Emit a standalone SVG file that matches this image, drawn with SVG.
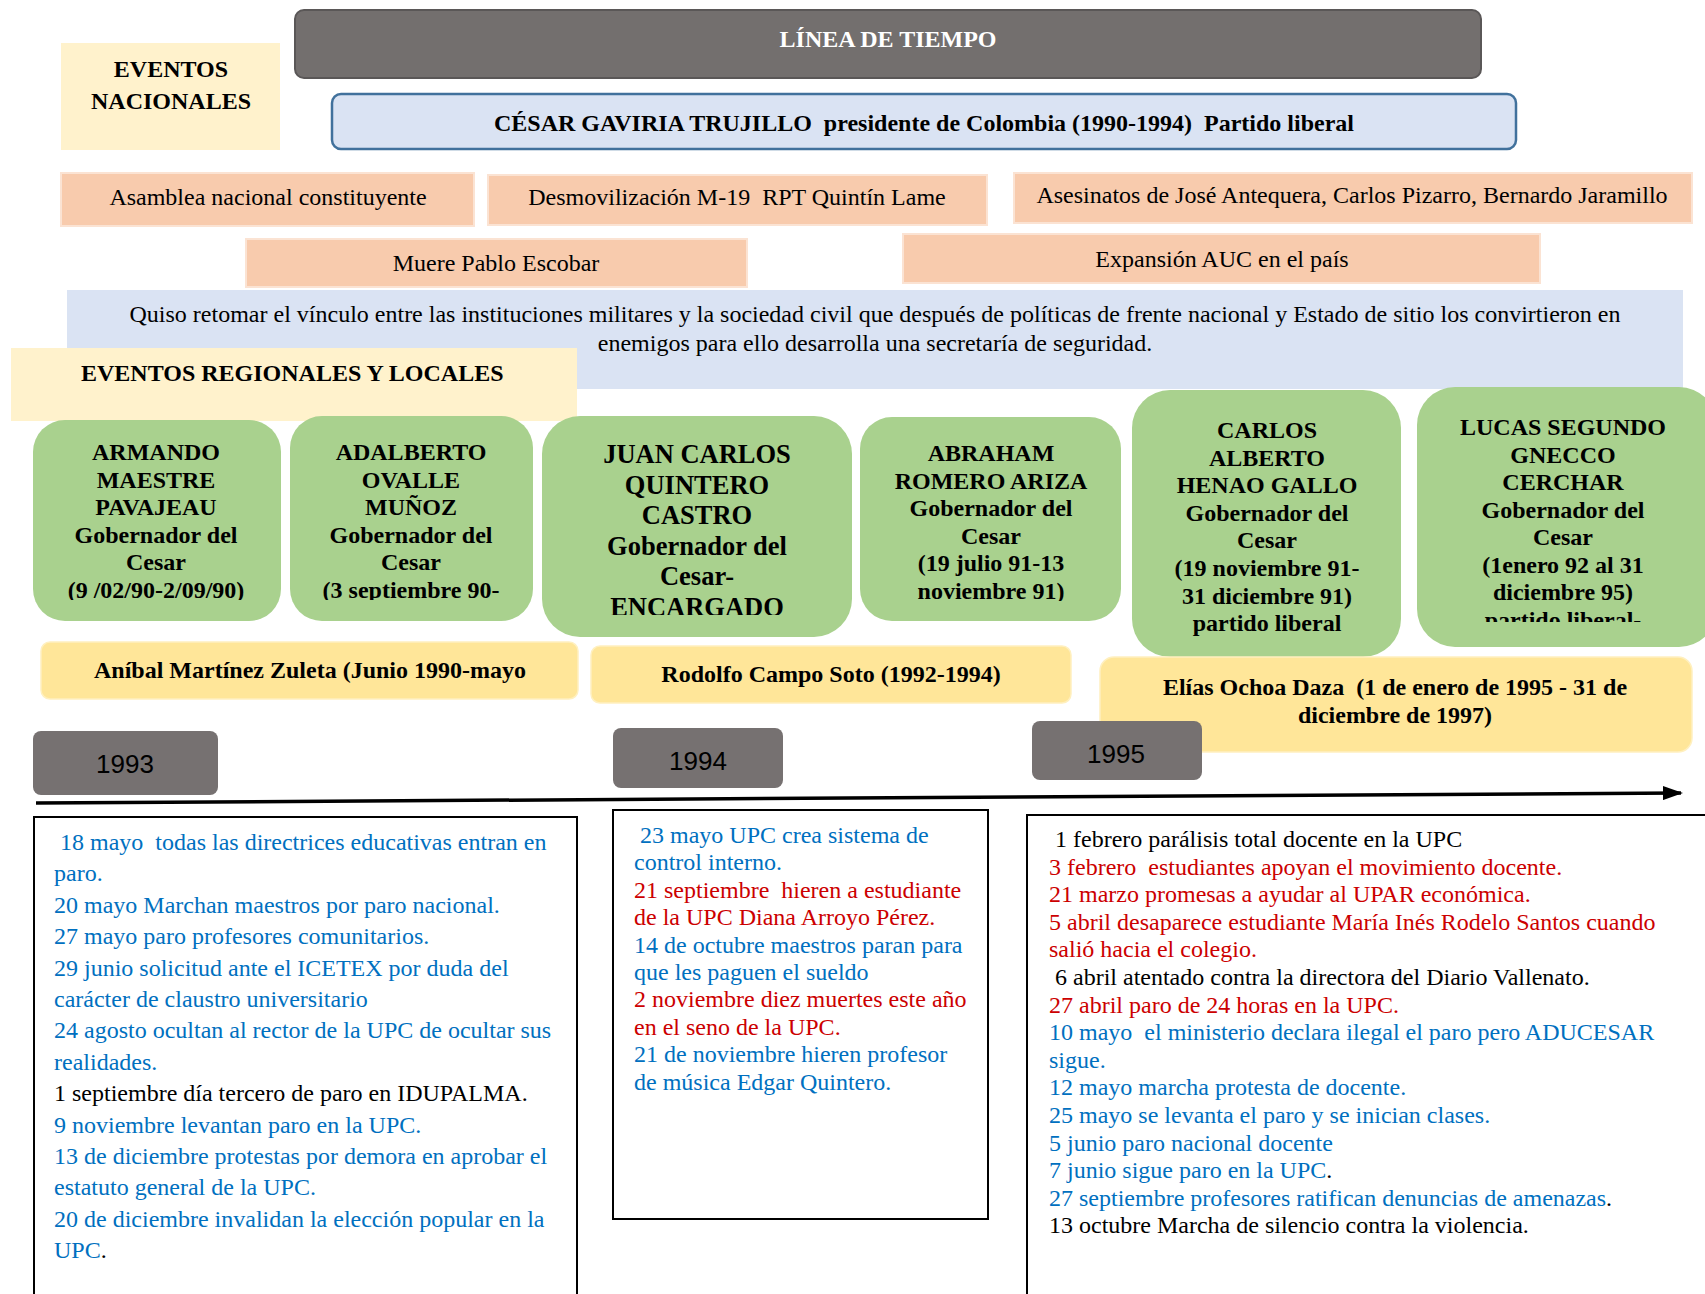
<svg xmlns="http://www.w3.org/2000/svg" width="1705" height="1294" viewBox="0 0 1705 1294">
<style>
text{font-family:"Liberation Serif","Times New Roman",serif;font-size:24px;fill:#000;white-space:pre}
.b{font-weight:bold}
.c{text-anchor:middle}
.w{fill:#fff}
.blue{fill:#0070c0}
.red{fill:#cc0000}
.blk{fill:#000}
.yr{font-family:"Liberation Sans",Arial,sans-serif;font-size:26px;text-anchor:middle}
.salmon{fill:#f8cbad;stroke:#fbe3d3;stroke-width:2}
.green{fill:#a9d18e}
.gov{fill:#ffe699;stroke:#fff0c0;stroke-width:1.5}
.year{fill:#767171}
.cream{fill:#fff2cc}
.ev{fill:#fff;stroke:#000;stroke-width:2}
</style>
<defs>
<marker id="arr" markerUnits="userSpaceOnUse" markerWidth="20" markerHeight="14" refX="18" refY="7" orient="auto">
<path d="M0,0 L20,7 L0,14 Z" fill="#000"/>
</marker>
<clipPath id="clipA"><rect x="30" y="410" width="260" height="190"/></clipPath>
<clipPath id="clipB"><rect x="285" y="410" width="255" height="190"/></clipPath>
<clipPath id="clipC"><rect x="540" y="410" width="315" height="205"/></clipPath>
<clipPath id="clipD"><rect x="855" y="410" width="270" height="191"/></clipPath>
<clipPath id="clipF"><rect x="1415" y="380" width="300" height="242"/></clipPath>
</defs>
<rect width="1705" height="1294" fill="#fff"/>

<g id="titulo">
<rect x="295" y="10" width="1186" height="68" rx="9" fill="#736f6e" stroke="#5a5757" stroke-width="2"/>
<text class="b c w" x="888" y="47">LÍNEA DE TIEMPO</text>
</g>

<g id="eventos-nacionales">
<rect class="cream" x="61" y="43" width="219" height="107"/>
<text class="b c" x="171" y="77">EVENTOS</text>
<text class="b c" x="171" y="109">NACIONALES</text>
</g>

<g id="presidente">
<rect x="332" y="94" width="1184" height="55" rx="9" fill="#dae3f3" stroke="#41719c" stroke-width="2.5"/>
<text class="b c" x="924" y="131">CÉSAR GAVIRIA TRUJILLO  presidente de Colombia (1990-1994)  Partido liberal</text>
</g>

<g id="asamblea">
<rect class="salmon" x="61" y="173" width="413" height="53"/>
<text class="c" x="268" y="205">Asamblea nacional constituyente</text>
</g>
<g id="desmovilizacion">
<rect class="salmon" x="488" y="175" width="499" height="50"/>
<text class="c" x="737" y="205">Desmovilización M-19  RPT Quintín Lame</text>
</g>
<g id="asesinatos">
<rect class="salmon" x="1014" y="173" width="678" height="50"/>
<text class="c" x="1352" y="203">Asesinatos de José Antequera, Carlos Pizarro, Bernardo Jaramillo</text>
</g>
<g id="pablo-escobar">
<rect class="salmon" x="246" y="239" width="501" height="48"/>
<text class="c" x="496" y="271">Muere Pablo Escobar</text>
</g>
<g id="auc">
<rect class="salmon" x="903" y="234" width="637" height="49"/>
<text class="c" x="1222" y="267">Expansión AUC en el país</text>
</g>

<g id="vinculo">
<rect x="67" y="290" width="1616" height="99" fill="#dae3f3"/>
<text class="c" x="875" y="322">Quiso retomar el vínculo entre las instituciones militares y la sociedad civil que después de políticas de frente nacional y Estado de sitio los convirtieron en</text>
<text class="c" x="875" y="351">enemigos para ello desarrolla una secretaría de seguridad.</text>
</g>

<g id="eventos-regionales">
<rect class="cream" x="11" y="348" width="566" height="73"/>
<text class="b" x="81" y="381">EVENTOS REGIONALES Y LOCALES</text>
</g>

<g id="gob-armando">
<rect class="green" x="33" y="420" width="248" height="201" rx="32"/>
<text class="b c" clip-path="url(#clipA)"><tspan x="156" y="460">ARMANDO</tspan><tspan x="156" y="487.6">MAESTRE</tspan><tspan x="156" y="515.2">PAVAJEAU</tspan><tspan x="156" y="542.8">Gobernador del</tspan><tspan x="156" y="570.4">Cesar</tspan><tspan x="156" y="598">(9 /02/90-2/09/90)</tspan></text>
</g>
<g id="gob-adalberto">
<rect class="green" x="290" y="416" width="243" height="205" rx="32"/>
<text class="b c" clip-path="url(#clipB)"><tspan x="411" y="460">ADALBERTO</tspan><tspan x="411" y="487.6">OVALLE</tspan><tspan x="411" y="515.2">MUÑOZ</tspan><tspan x="411" y="542.8">Gobernador del</tspan><tspan x="411" y="570.4">Cesar</tspan><tspan x="411" y="598">(3 septiembre 90-</tspan></text>
</g>
<g id="gob-juan-carlos">
<rect class="green" x="542" y="416" width="310" height="221" rx="38"/>
<text class="b c" style="font-size:26.5px" clip-path="url(#clipC)"><tspan x="697" y="463">JUAN CARLOS</tspan><tspan x="697" y="493.6">QUINTERO</tspan><tspan x="697" y="524.2">CASTRO</tspan><tspan x="697" y="554.8">Gobernador del</tspan><tspan x="697" y="585.4">Cesar-</tspan><tspan x="697" y="616">ENCARGADO</tspan></text>
</g>
<g id="gob-abraham">
<rect class="green" x="860" y="417" width="261" height="204" rx="32"/>
<text class="b c" clip-path="url(#clipD)"><tspan x="991" y="461">ABRAHAM</tspan><tspan x="991" y="488.6">ROMERO ARIZA</tspan><tspan x="991" y="516.2">Gobernador del</tspan><tspan x="991" y="543.8">Cesar</tspan><tspan x="991" y="571.4">(19 julio 91-13</tspan><tspan x="991" y="599">noviembre 91)</tspan></text>
</g>
<g id="gob-carlos-alberto">
<rect class="green" x="1132" y="390" width="269" height="267" rx="38"/>
<text class="b c"><tspan x="1267" y="438">CARLOS</tspan><tspan x="1267" y="465.6">ALBERTO</tspan><tspan x="1267" y="493.2">HENAO GALLO</tspan><tspan x="1267" y="520.8">Gobernador del</tspan><tspan x="1267" y="548.4">Cesar</tspan><tspan x="1267" y="576">(19 noviembre 91-</tspan><tspan x="1267" y="603.6">31 diciembre 91)</tspan><tspan x="1267" y="631.2">partido liberal</tspan></text>
</g>
<g id="gob-lucas">
<rect class="green" x="1417" y="387" width="300" height="260" rx="38"/>
<text class="b c" clip-path="url(#clipF)"><tspan x="1563" y="435">LUCAS SEGUNDO</tspan><tspan x="1563" y="462.5">GNECCO</tspan><tspan x="1563" y="490">CERCHAR</tspan><tspan x="1563" y="517.5">Gobernador del</tspan><tspan x="1563" y="545">Cesar</tspan><tspan x="1563" y="572.5">(1enero 92 al 31</tspan><tspan x="1563" y="600">diciembre 95)</tspan><tspan x="1563" y="627.5">partido liberal-</tspan></text>
</g>

<g id="rector-anibal">
<rect class="gov" x="41" y="642" width="537" height="57" rx="9"/>
<text class="b c" x="310" y="678">Aníbal Martínez Zuleta (Junio 1990-mayo</text>
</g>
<g id="rector-rodolfo">
<rect class="gov" x="591" y="646" width="480" height="57" rx="9"/>
<text class="b c" x="831" y="682">Rodolfo Campo Soto (1992-1994)</text>
</g>
<g id="rector-elias">
<rect class="gov" x="1100" y="657" width="592" height="95" rx="14"/>
<text class="b c" x="1395" y="695">Elías Ochoa Daza  (1 de enero de 1995 - 31 de</text>
<text class="b c" x="1395" y="723">diciembre de 1997)</text>
</g>

<g id="anio-1993">
<rect class="year" x="33" y="731" width="185" height="64" rx="8"/>
<text class="yr" x="125" y="773" fill="#111">1993</text>
</g>
<g id="anio-1994">
<rect class="year" x="613" y="728" width="170" height="60" rx="8"/>
<text class="yr" x="698" y="770" fill="#111">1994</text>
</g>
<g id="anio-1995">
<rect class="year" x="1032" y="721" width="170" height="59" rx="8"/>
<text class="yr" x="1116" y="763" fill="#fff">1995</text>
</g>

<g id="connectors">
<line x1="36" y1="803" x2="1681" y2="793" stroke="#000" stroke-width="3.5" marker-end="url(#arr)"/>
</g>

<g id="eventos-1993">
<rect class="ev" x="34" y="817" width="543" height="500"/>
<text class="blue" x="54" y="850"> 18 mayo  todas las directrices educativas entran en</text>
<text class="blue" x="54" y="881.4">paro.</text>
<text class="blue" x="54" y="912.8">20 mayo Marchan maestros por paro nacional.</text>
<text class="blue" x="54" y="944.2">27 mayo paro profesores comunitarios.</text>
<text class="blue" x="54" y="975.6">29 junio solicitud ante el ICETEX por duda del</text>
<text class="blue" x="54" y="1007">carácter de claustro universitario</text>
<text class="blue" x="54" y="1038.4">24 agosto ocultan al rector de la UPC de ocultar sus</text>
<text class="blue" x="54" y="1069.8">realidades.</text>
<text class="blk" x="54" y="1101.2">1 septiembre día tercero de paro en IDUPALMA.</text>
<text class="blue" x="54" y="1132.6">9 noviembre levantan paro en la UPC.</text>
<text class="blue" x="54" y="1164">13 de diciembre protestas por demora en aprobar el</text>
<text class="blue" x="54" y="1195.4">estatuto general de la UPC.</text>
<text class="blue" x="54" y="1226.8">20 de diciembre invalidan la elección popular en la</text>
<text x="54" y="1258.2"><tspan class="blue">UPC</tspan><tspan class="blk">.</tspan></text>
</g>

<g id="eventos-1994">
<rect class="ev" x="613" y="810" width="375" height="409"/>
<text class="blue" x="634" y="843"> 23 mayo UPC crea sistema de</text>
<text class="blue" x="634" y="870.4">control interno.</text>
<text class="red" x="634" y="897.8">21 septiembre  hieren a estudiante</text>
<text class="red" x="634" y="925.2">de la UPC Diana Arroyo Pérez.</text>
<text class="blue" x="634" y="952.6">14 de octubre maestros paran para</text>
<text class="blue" x="634" y="980">que les paguen el sueldo</text>
<text class="red" x="634" y="1007.4">2 noviembre diez muertes este año</text>
<text class="red" x="634" y="1034.8">en el seno de la UPC.</text>
<text class="blue" x="634" y="1062.2">21 de noviembre hieren profesor</text>
<text class="blue" x="634" y="1089.6">de música Edgar Quintero.</text>
</g>

<g id="eventos-1995">
<rect class="ev" x="1027" y="815" width="700" height="500"/>
<text class="blk" x="1049" y="847"> 1 febrero parálisis total docente en la UPC</text>
<text class="red" x="1049" y="874.6">3 febrero  estudiantes apoyan el movimiento docente.</text>
<text class="red" x="1049" y="902.2">21 marzo promesas a ayudar al UPAR económica.</text>
<text class="red" x="1049" y="929.8">5 abril desaparece estudiante María Inés Rodelo Santos cuando</text>
<text class="red" x="1049" y="957.4">salió hacia el colegio.</text>
<text class="blk" x="1049" y="985"> 6 abril atentado contra la directora del Diario Vallenato.</text>
<text class="red" x="1049" y="1012.6">27 abril paro de 24 horas en la UPC.</text>
<text class="blue" x="1049" y="1040.2">10 mayo  el ministerio declara ilegal el paro pero ADUCESAR</text>
<text class="blue" x="1049" y="1067.8">sigue.</text>
<text class="blue" x="1049" y="1095.4">12 mayo marcha protesta de docente.</text>
<text class="blue" x="1049" y="1123">25 mayo se levanta el paro y se inician clases.</text>
<text class="blue" x="1049" y="1150.6">5 junio paro nacional docente</text>
<text x="1049" y="1178.2"><tspan class="blue">7 junio sigue paro en la UPC</tspan><tspan class="blk">.</tspan></text>
<text x="1049" y="1205.8"><tspan class="blue">27 septiembre profesores ratifican denuncias de amenazas</tspan><tspan class="blk">.</tspan></text>
<text class="blk" x="1049" y="1233.4">13 octubre Marcha de silencio contra la violencia.</text>
</g>
</svg>
